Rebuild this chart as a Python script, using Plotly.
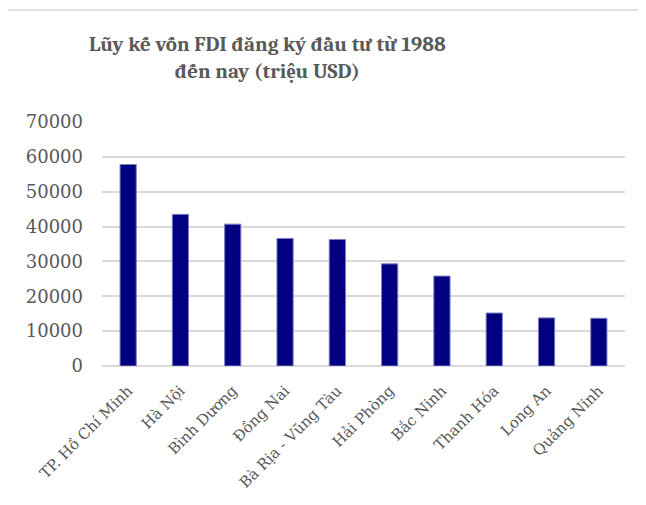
import plotly.graph_objects as go

TINH = ['TP. Hồ Chí Minh', 'Hà Nội', 'Bình Dương', 'Đồng Nai', 'Bà Rịa - Vũng Tàu',
        'Hải Phòng', 'Bắc Ninh', 'Thanh Hóa', 'Long An', 'Quảng Ninh']
VON_FDI = [57800, 43500, 40700, 36600, 36300, 29300, 25800, 15200, 13800, 13700]
Y_TICKS = [0, 10000, 20000, 30000, 40000, 50000, 60000, 70000]

NAVY = '#000080'
XAM = '#595959'
LUOI = '#d9d9d9'
SERIF = 'Cambria, "Liberation Serif", "DejaVu Serif", serif'
SERIF_RONG = '"DejaVu Serif", serif'

# trang html co le 8px quanh figure
OFF = 8
W, H = 646, 505
L, T = 102 - OFF, 122 - OFF
R = W - (625 - OFF)
B = H - (366 - OFF)
pw, ph = W - L - R, H - T - B


def px_x(p):
    return (p - OFF - L) / pw


def px_y(q):
    return (H - B - (q - OFF)) / ph


fig = go.Figure(go.Bar(
    x=TINH, y=VON_FDI,
    marker=dict(color=NAVY, line=dict(color='#7f7fbf', width=1)),
    width=0.31,
))

fig.update_layout(
    width=W, height=H,
    margin=dict(l=L, r=R, t=T, b=B, autoexpand=False),
    paper_bgcolor='white', plot_bgcolor='white',
    showlegend=False,
    font=dict(family=SERIF, color=XAM),
    xaxis=dict(tickangle=-45, tickfont=dict(family=SERIF_RONG, size=15, color=XAM),
               showgrid=False, showline=False, ticks='', ticklabelstandoff=12),
    yaxis=dict(range=[0, 70000], tickvals=Y_TICKS, tickformat='d', ticks='',
               tickfont=dict(family=SERIF_RONG, size=18, color=XAM), showgrid=True,
               gridcolor=LUOI, gridwidth=1.5, zeroline=True,
               zerolinecolor=LUOI, zerolinewidth=1.5, ticklabelstandoff=18),
    shapes=[dict(type='rect', xref='paper', yref='paper',
                 x0=px_x(5), x1=px_x(700), y0=px_y(10), y1=px_y(560),
                 line=dict(color=LUOI, width=1.5), fillcolor='rgba(0,0,0,0)',
                 layer='below')],
    annotations=[dict(
        text='<b>Lũy kế vốn FDI đăng ký đầu tư từ 1988<br>đến nay (triệu USD)</b>',
        xref='paper', yref='paper', x=px_x(267), y=px_y(30),
        xanchor='center', yanchor='top', showarrow=False,
        font=dict(family=SERIF, size=21, color=XAM),
    )],
)

fig.write_html('out.html')
